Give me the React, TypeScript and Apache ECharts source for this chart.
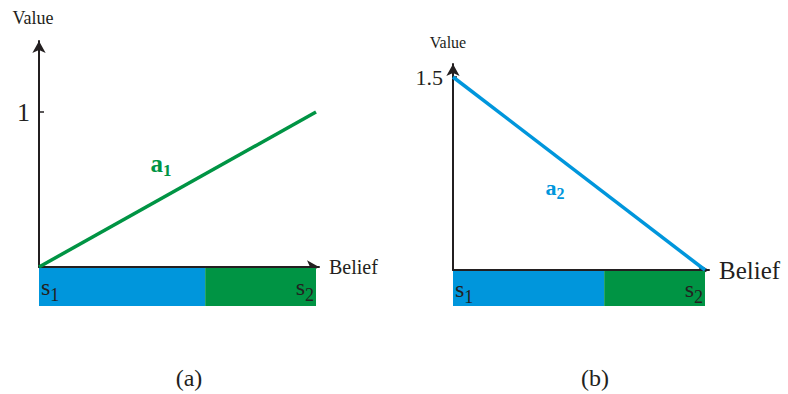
import React, { useEffect, useRef } from 'react';
import * as echarts from 'echarts';

// Data
const beliefs = [0, 1];
const valuesA1 = [0, 1];
const valuesA2 = [1.5, 0];
const stateShares = [0.6, 0.4];
const stateSubs = ['1', '2'];
const yTicksA = [1];
const yTicksB = [1.5];
const actionA = { sub: '1', belief: 0.44, value: 0.67 };
const actionB = { sub: '2', belief: 0.405, value: 0.645 };
const captions = ['(a)', '(b)'];

const BLUE = '#0096dc';
const GREEN = '#009444';
const INK = '#231f20';
const SERIF = 'Liberation Serif';

function lineData(vals: number[]) {
  return beliefs.map((b, i) => [b, vals[i]]);
}

function stripSeries(gridIdx: number, fontSize: number, subSize: number) {
  return stateShares.map((share, i) => ({
    type: 'bar',
    xAxisIndex: gridIdx,
    yAxisIndex: gridIdx,
    stack: 'strip' + gridIdx,
    barWidth: '100%',
    data: [share],
    itemStyle: { color: i === 0 ? BLUE : GREEN },
    label: {
      show: true,
      position: i === 0 ? 'insideLeft' : 'insideRight',
      distance: 2,
      formatter: '{s|s}{sub|' + stateSubs[i] + '}',
      rich: {
        s: { fontFamily: SERIF, fontSize, color: INK },
        sub: { fontFamily: SERIF, fontSize: subSize, color: INK, padding: [16, 0, 0, 0] },
      },
    },
  }));
}

export default function App() {
  const ref = useRef<HTMLDivElement>(null);
  useEffect(() => {
    if (!ref.current) return;
    const chart = echarts.init(ref.current, undefined, { renderer: 'svg' });
    const axisLine = {
      show: true,
      symbol: ['none', 'arrow'],
      symbolSize: [10, 12],
      lineStyle: { color: INK, width: 2 },
    };
    const hiddenValue = (max: number, gridIndex: number) => ({
      type: 'value', gridIndex, min: 0, max, show: false, splitLine: { show: false },
    });
    // layout: grids (pixel geometry)
    const aXMax = 280 / 277;
    const aYMax = 226 / 155;
    const bXMax = 256 / 252;
    const bYMax = 206 / (193 / 1.5);
    const option: any = {
      animation: false,
      textStyle: { fontFamily: SERIF },
      grid: [
        { left: 39, top: 41, width: 280, height: 226, outerBoundsMode: 'none' },
        { left: 453, top: 64, width: 256, height: 206, outerBoundsMode: 'none' },
        { left: 39, top: 268, width: 280, height: 38, outerBoundsMode: 'none' },
        { left: 453, top: 271, width: 256, height: 35, outerBoundsMode: 'none' },
      ],
      xAxis: [
        {
          type: 'value', gridIndex: 0, min: 0, max: aXMax,
          axisLine, axisTick: { show: false }, axisLabel: { show: false }, splitLine: { show: false },
          name: 'Belief', nameLocation: 'end', nameGap: 10,
          nameTextStyle: { fontFamily: SERIF, fontSize: 20, color: INK, padding: [6, 0, 0, 0] },
        },
        {
          type: 'value', gridIndex: 1, min: 0, max: bXMax,
          axisLine, axisTick: { show: false }, axisLabel: { show: false }, splitLine: { show: false },
          name: 'Belief', nameLocation: 'end', nameGap: 10,
          nameTextStyle: { fontFamily: SERIF, fontSize: 25, color: INK, padding: [6, 0, 0, 0] },
        },
        hiddenValue(aXMax, 2),
        hiddenValue(bXMax, 3),
      ],
      yAxis: [
        {
          type: 'value', gridIndex: 0, min: 0, max: aYMax,
          axisLine,
          axisTick: { show: true, inside: true, customValues: yTicksA, length: 5, lineStyle: { color: INK, width: 1.5 } },
          axisLabel: { customValues: yTicksA, margin: 9, fontFamily: SERIF, fontSize: 26, color: INK },
          splitLine: { show: false },
          name: 'Value', nameLocation: 'end', nameGap: 14,
          nameTextStyle: { fontFamily: SERIF, fontSize: 18, color: INK, padding: [0, 12, 0, 0] },
        },
        {
          type: 'value', gridIndex: 1, min: 0, max: bYMax,
          axisLine,
          axisTick: { show: true, inside: true, customValues: yTicksB, length: 4, lineStyle: { color: INK, width: 1.5 } },
          axisLabel: { customValues: yTicksB, margin: 10, fontFamily: SERIF, fontSize: 22, color: INK },
          splitLine: { show: false },
          name: 'Value', nameLocation: 'end', nameGap: 14,
          nameTextStyle: { fontFamily: SERIF, fontSize: 16, color: INK, padding: [0, 10, 0, 0] },
        },
        { type: 'category', gridIndex: 2, data: ['s'], show: false },
        { type: 'category', gridIndex: 3, data: ['s'], show: false },
      ],
      series: [
        {
          type: 'line', xAxisIndex: 0, yAxisIndex: 0, data: lineData(valuesA1),
          symbol: 'none', lineStyle: { color: GREEN, width: 3.5 }, z: 5,
          markPoint: {
            symbol: 'circle', symbolSize: 0,
            data: [{ coord: [actionA.belief, actionA.value] }],
            label: {
              show: true, position: 'inside',
              formatter: '{a|a}{sub|' + actionA.sub + '}',
              rich: {
                a: { fontFamily: SERIF, fontSize: 25, fontWeight: 'bold', color: GREEN },
                sub: { fontFamily: SERIF, fontSize: 17, fontWeight: 'bold', color: GREEN, padding: [14, 0, 0, 0] },
              },
            },
          },
        },
        {
          type: 'line', xAxisIndex: 1, yAxisIndex: 1, data: lineData(valuesA2),
          symbol: 'none', lineStyle: { color: BLUE, width: 3.5 }, z: 5,
          markPoint: {
            symbol: 'circle', symbolSize: 0,
            data: [{ coord: [actionB.belief, actionB.value] }],
            label: {
              show: true, position: 'inside',
              formatter: '{a|a}{sub|' + actionB.sub + '}',
              rich: {
                a: { fontFamily: SERIF, fontSize: 22, fontWeight: 'bold', color: BLUE },
                sub: { fontFamily: SERIF, fontSize: 16, fontWeight: 'bold', color: BLUE, padding: [12, 0, 0, 0] },
              },
            },
          },
        },
        ...stripSeries(2, 24, 18),
        ...stripSeries(3, 24, 18),
      ],
      graphic: [
        { type: 'text', x: 189, y: 378, style: { text: captions[0], fontFamily: SERIF, fontSize: 24, fill: INK, align: 'center', verticalAlign: 'middle' } },
        { type: 'text', x: 595, y: 378, style: { text: captions[1], fontFamily: SERIF, fontSize: 24, fill: INK, align: 'center', verticalAlign: 'middle' } },
      ],
    };
    chart.setOption(option);
    return () => chart.dispose();
  }, []);
  return (
    <div
      ref={ref}
      style={{ position: 'fixed', left: 0, top: 0, width: 788, height: 394, background: '#fff' }}
    />
  );
}
